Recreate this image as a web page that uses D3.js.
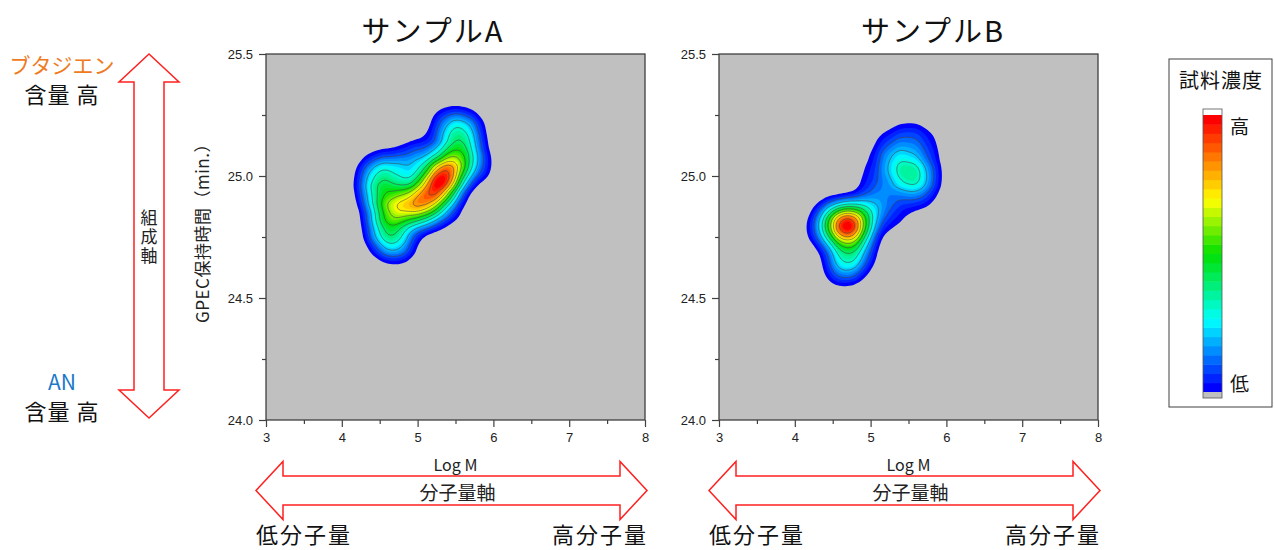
<!DOCTYPE html>
<html>
<head>
<meta charset="utf-8">
<script src="https://cdn.jsdelivr.net/npm/d3@7"></script>
<style>
body { margin: 0; background: #fff; }
text { font-family: "Noto Sans CJK JP", "Noto Sans", sans-serif; }
.tick text { font-family: "Liberation Sans", Arial, sans-serif; }
</style>
</head>
<body>
<svg id="chart" width="1275" height="550"></svg>
<script>
// ---- data ----
const xDomain = [3, 8];
const yDomain = [24.0, 25.5];
const xTicks = [3, 4, 5, 6, 7, 8];
const xMinor = [3.5, 4.5, 5.5, 6.5, 7.5];
const yTicks = [24.0, 24.5, 25.0, 25.5];
const yMinor = [24.25, 24.75, 25.25];
const titles = ["サンプルA", "サンプルB"];

// weighted sample points [Log M, retention time, weight]
const pointsA = [
  [5.36, 25.00, 8], [5.22, 24.95, 4], [5.12, 24.90, 4], [4.85, 24.90, 4],
  [4.65, 24.85, 4], [4.50, 24.92, 3], [4.45, 25.00, 2], [4.62, 25.02, 2],
  [4.90, 25.02, 1.5], [5.05, 25.08, 1.5], [4.70, 24.73, 3], [4.55, 24.78, 2],
  [5.00, 24.85, 3], [5.50, 25.08, 4], [5.60, 25.18, 3], [5.72, 25.05, 2],
  [5.40, 25.20, 1.5], [5.35, 24.88, 1.5]
];
const pointsB = [
  [4.70, 24.79, 10], [4.55, 24.82, 4], [4.85, 24.82, 4], [4.70, 24.68, 4],
  [4.65, 24.62, 2], [4.40, 24.78, 2], [4.90, 24.70, 1],
  [5.00, 24.88, 1.5], [5.20, 24.92, 1.5], [5.25, 24.83, 1], [5.05, 25.00, 1],
  [5.50, 25.01, 4], [5.30, 25.05, 2], [5.70, 25.00, 2], [5.50, 25.15, 1.5],
  [5.70, 25.12, 1.2], [5.25, 25.12, 1.2], [5.60, 24.92, 1.5]
];
const samples = [pointsA, pointsB];

const nLevels = 30;
const lowFrac = 0.06;
const colorStops = [0, 0.25, 0.5, 0.7, 0.85, 1];
const colorRange = ["#0000ff", "#00ffff", "#00e000", "#ffff00", "#ff8000", "#ff0000"];
const jet = d3.scaleLinear().domain(colorStops).range(colorRange);

// ---- layout ----
const svg = d3.select("#chart");
const panelW = 379, panelH = 366, panelTop = 54;
const lefts = [266, 719];
const titleX = [433, 933];
const red = "#ff2020";

const x = d3.scaleLinear().domain(xDomain).range([0, panelW]);
const y = d3.scaleLinear().domain(yDomain).range([panelH, 0]);

function hArrow(x1, x2, cy, hl, hh, sh) {
  return [[x1, cy], [x1 + hl, cy - hh], [x1 + hl, cy - sh], [x2 - hl, cy - sh], [x2 - hl, cy - hh],
    [x2, cy], [x2 - hl, cy + hh], [x2 - hl, cy + sh], [x1 + hl, cy + sh], [x1 + hl, cy + hh]];
}
function vArrow(cx, y1, y2, hl, hw, sw) {
  return hArrow(y1, y2, cx, hl, hw, sw).map(p => [p[1], p[0]]);
}

samples.forEach((pts, k) => {
  const g = svg.append("g").attr("transform", `translate(${lefts[k]},${panelTop})`);

  g.append("clipPath").attr("id", "clip" + k)
    .append("rect").attr("width", panelW).attr("height", panelH);

  g.append("rect").attr("width", panelW).attr("height", panelH).attr("fill", "#c0c0c0");

  const density = d3.contourDensity()
    .x(d => x(d[0])).y(d => y(d[1])).weight(d => d[2])
    .size([panelW, panelH]).cellSize(2).bandwidth(12);
  const contours = density.contours(pts);
  const max = contours.max;
  const levels = d3.range(nLevels).map(i => max * (lowFrac + (1 - lowFrac) * i / nLevels));

  const cg = g.append("g").attr("clip-path", `url(#clip${k})`);
  cg.selectAll("path.fill").data(levels).join("path")
    .attr("class", "fill")
    .attr("d", v => d3.geoPath()(contours(v)))
    .attr("fill", (v, i) => jet(i / (nLevels - 1)));
  cg.selectAll("path.line").data(levels.filter((v, i) => i > 0 && i % 3 === 0)).join("path")
    .attr("class", "line")
    .attr("d", v => d3.geoPath()(contours(v)))
    .attr("fill", "none").attr("stroke", "#404040").attr("stroke-width", 0.7).attr("stroke-opacity", 0.8);

  // frame
  g.append("rect").attr("width", panelW).attr("height", panelH)
    .attr("fill", "none").attr("stroke", "#404040").attr("stroke-width", 1.3);

  // axes
  g.append("g").attr("transform", `translate(0,${panelH})`)
    .call(d3.axisBottom(x).tickValues(xTicks).tickSize(7).tickPadding(6).tickFormat(d3.format("d")));
  g.append("g").attr("transform", `translate(0,${panelH})`)
    .call(d3.axisBottom(x).tickValues(xMinor).tickSize(4).tickFormat(""));
  g.append("g")
    .call(d3.axisLeft(y).tickValues(yTicks).tickSize(7).tickPadding(6).tickFormat(d3.format(".1f")));
  g.append("g").call(d3.axisLeft(y).tickValues(yMinor).tickSize(4).tickFormat(""));
  g.selectAll(".domain").remove();
  g.selectAll(".tick line").attr("stroke", "#404040").attr("stroke-width", 1.2);
  g.selectAll(".tick text").attr("font-size", 13).attr("fill", "#222");

  // title
  g.append("text").attr("x", titleX[k] - lefts[k]).attr("y", 42 - panelTop).attr("text-anchor", "middle")
    .attr("font-size", 29).attr("letter-spacing", 2).attr("fill", "#111").text(titles[k]);

  // x label + arrow
  g.append("text").attr("x", panelW / 2).attr("y", 471 - panelTop).attr("text-anchor", "middle")
    .attr("font-size", 16).attr("fill", "#222").attr("font-family", "Liberation Sans, Arial, sans-serif")
    .text("Log M");
  g.append("polygon")
    .attr("points", hArrow(-10, panelW + 2, 490.5 - panelTop, 27, 29, 14.5).join(" "))
    .attr("fill", "#fff").attr("stroke", red).attr("stroke-width", 1.5);
  g.append("text").attr("x", panelW / 2 + 2).attr("y", 500 - panelTop).attr("text-anchor", "middle")
    .attr("font-size", 19).attr("fill", "#222").text("分子量軸");
  g.append("text").attr("x", -10).attr("y", 543 - panelTop).attr("font-size", 22)
    .attr("letter-spacing", 2).attr("fill", "#111").text("低分子量");
  g.append("text").attr("x", panelW + 3).attr("y", 543 - panelTop).attr("text-anchor", "end")
    .attr("font-size", 22).attr("letter-spacing", 2).attr("fill", "#111").text("高分子量");

  if (k === 0) {
    g.append("text").attr("transform", `translate(${209 - lefts[0]},${229 - panelTop}) rotate(-90)`)
      .attr("text-anchor", "middle").attr("font-size", 17).attr("letter-spacing", 0.5).attr("fill", "#222")
      .text("GPEC保持時間（min.）");
  }
});

// composition axis arrow on the left
svg.append("polygon")
  .attr("points", vArrow(149, 54, 418, 28, 30, 15).join(" "))
  .attr("fill", "#fff").attr("stroke", red).attr("stroke-width", 1.5);
svg.append("text").attr("x", 149).attr("y", 238).attr("text-anchor", "middle")
  .style("writing-mode", "vertical-rl").attr("font-size", 17).attr("letter-spacing", 2)
  .attr("fill", "#222").text("組成軸");
svg.append("text").attr("x", 62).attr("y", 73).attr("text-anchor", "middle")
  .attr("font-size", 21).attr("fill", "#ee7a22").text("ブタジエン");
svg.append("text").attr("x", 62).attr("y", 103).attr("text-anchor", "middle")
  .attr("font-size", 22).attr("letter-spacing", 1).attr("fill", "#111").text("含量 高");
svg.append("text").attr("x", 62).attr("y", 390).attr("text-anchor", "middle")
  .attr("font-size", 21).attr("fill", "#1a78c8").attr("font-family", "Liberation Sans, Arial, sans-serif").text("AN");
svg.append("text").attr("x", 62).attr("y", 420).attr("text-anchor", "middle")
  .attr("font-size", 22).attr("letter-spacing", 1).attr("fill", "#111").text("含量 高");

// colour legend
const lg = svg.append("g");
lg.append("rect").attr("x", 1169).attr("y", 59).attr("width", 103).attr("height", 348)
  .attr("fill", "#fff").attr("stroke", "#404040").attr("stroke-width", 1);
lg.append("text").attr("x", 1221).attr("y", 88).attr("text-anchor", "middle")
  .attr("font-size", 20).attr("letter-spacing", 1).attr("fill", "#111").text("試料濃度");
const barX = 1203, barW = 19, barTop = 115, barBot = 392;
const bandH = (barBot - barTop) / nLevels;
lg.selectAll("rect.band").data(d3.range(nLevels)).join("rect")
  .attr("class", "band")
  .attr("x", barX).attr("width", barW)
  .attr("y", i => barBot - (i + 1) * bandH).attr("height", bandH + 0.5)
  .attr("fill", i => jet(i / (nLevels - 1)));
lg.append("rect").attr("x", barX).attr("y", 109).attr("width", barW).attr("height", barTop - 109).attr("fill", "#fff");
lg.append("rect").attr("x", barX).attr("y", barBot).attr("width", barW).attr("height", 6).attr("fill", "#c0c0c0");
lg.append("rect").attr("x", barX).attr("y", 109).attr("width", barW).attr("height", 289)
  .attr("fill", "none").attr("stroke", "#555").attr("stroke-width", 0.8);
lg.append("text").attr("x", 1230).attr("y", 134).attr("font-size", 19).attr("fill", "#111").text("高");
lg.append("text").attr("x", 1230).attr("y", 391).attr("font-size", 19).attr("fill", "#111").text("低");
</script>
</body>
</html>
